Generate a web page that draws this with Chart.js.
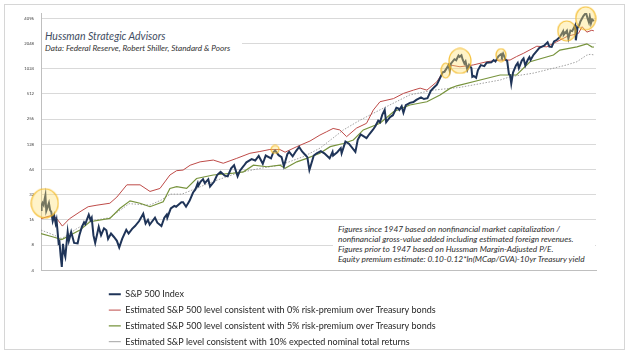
<!DOCTYPE html>
<html>
<head>
<meta charset="utf-8">
<script src="https://cdn.jsdelivr.net/npm/chart.js@4.4.0/dist/chart.umd.min.js"></script>
<style>
  body { margin: 0; background: #fff; }
  #wrap { position: relative; width: 630px; height: 353px; }
  #frame { position: absolute; left: 4px; top: 4px; width: 621px; height: 346px; border: 1px solid #d6d6d6; box-sizing: border-box; }
  canvas { position: absolute; left: 0; top: 0; }
  .box { position: absolute; background: #fff; font-family: Lato, sans-serif; font-style: italic; white-space: nowrap; }
  #title { left: 42px; top: 28px; width: 200px; height: 27px; }
  #title .t1 { position: absolute; left: 3px; top: 2px; font-size: 10.5px; color: #3f4d62; }
  #title .t2 { position: absolute; left: 3px; top: 15px; font-size: 8.2px; color: #333; }
  #note { left: 333px; top: 222px; width: 262px; height: 46px; font-size: 8.3px; line-height: 10px; color: #2e2e2e; padding: 2px 0 0 5px; box-sizing: border-box; }
</style>
</head>
<body>
<div id="wrap">
  <div id="frame"></div>
  <canvas id="chart" width="630" height="353"></canvas>
  <div id="title" class="box"><span class="t1">Hussman Strategic Advisors</span><span class="t2">Data: Federal Reserve, Robert Shiller, Standard &amp; Poors</span></div>
  <div id="note" class="box">Figures since 1947 based on nonfinancial market capitalization /<br>nonfinancial gross-value added including estimated foreign revenues.<br>Figures prior to 1947 based on Hussman Margin-Adjusted P/E.<br>Equity premium estimate: 0.10-0.12*ln(MCap/GVA)-10yr Treasury yield</div>
</div>
<script>
// tick labels (one every ~2.9 years on the original date axis)
var xTickLabels = ['1928','1931','1934','1937','1940','1943','1946','1949','1952','1955','1957','1960','1963','1966','1969','1972','1975','1978','1981','1984','1987','1990','1992','1995','1998','2001','2004','2007','2010','2013','2016','2019','2022'];
var yTicks = [4, 8, 16, 32, 64, 128, 256, 512, 1024, 2048, 4096];

// S&P 500 index
var spDates = [1928.95,1929.05,1929.2,1929.4,1929.55,1929.7,1929.85,1930.0,1930.3,1930.5,1930.7,1930.95,1931.2,1931.45,1931.6,1931.95,1932.1,1932.3,1932.5,1932.7,1932.9,1933.1,1933.5,1933.7,1934.1,1934.6,1935.2,1935.5,1935.9,1936.3,1936.5,1937.1,1937.4,1937.6,1937.9,1938.2,1938.8,1939.2,1939.7,1940.1,1940.4,1940.9,1941.4,1941.9,1942.3,1942.8,1943.5,1943.9,1944.5,1945.0,1945.7,1946.4,1946.8,1947.2,1947.5,1948.4,1948.8,1949.5,1950.0,1950.4,1950.5,1951.1,1951.7,1952.0,1952.9,1953.2,1953.7,1954.3,1954.9,1955.3,1955.7,1955.8,1956.2,1956.6,1956.9,1957.5,1957.8,1958.5,1959.0,1959.6,1960.3,1960.8,1961.4,1961.9,1962.5,1962.9,1963.5,1964.0,1964.9,1965.5,1966.1,1966.8,1967.3,1968.2,1968.6,1968.9,1969.5,1970.0,1970.4,1971.0,1971.3,1971.9,1972.5,1973.0,1973.5,1973.9,1974.4,1974.75,1975.0,1975.5,1976.0,1976.7,1977.3,1978.2,1978.7,1978.8,1979.5,1980.1,1980.25,1980.9,1981.5,1982.6,1983.0,1983.5,1984.5,1985.0,1985.6,1986.0,1986.5,1986.8,1987.2,1987.6,1987.85,1988.5,1989.0,1989.6,1989.9,1990.1,1990.5,1990.8,1991.2,1991.9,1992.5,1993.0,1993.8,1994.3,1994.9,1995.5,1996.0,1996.5,1997.0,1997.5,1997.8,1998.5,1998.7,1998.9,1999.5,1999.8,2000.2,2000.4,2000.7,2000.9,2001.2,2001.4,2001.7,2002.0,2002.4,2002.55,2002.8,2003.2,2003.5,2004.0,2004.6,2005.0,2005.8,2006.2,2006.5,2007.0,2007.45,2007.6,2007.8,2008.2,2008.5,2008.8,2009.0,2009.2,2009.5,2010.0,2010.3,2010.5,2011.0,2011.3,2011.6,2012.0,2012.3,2012.5,2013.0,2013.5,2014.0,2014.8,2015.4,2015.7,2016.1,2016.5,2017.0,2017.5,2018.05,2018.15,2018.7,2018.95,2019.3,2019.6,2020.1,2020.22,2020.5,2020.8,2021.0,2021.5,2021.95,2022.2,2022.45,2022.6,2022.8,2023.0,2023.3];
var spValues = [21,24,25.5,24,28,31.5,20.5,22,25.5,21,20,15.5,18,14.5,16,8.5,8.8,6,4.4,8.3,6.5,5.8,11.5,9,11.5,8.5,8.4,10.5,13,15,14.3,18.5,16,17,10.5,8.5,13.2,10.5,12.7,12,9.5,11,10,9,7.5,9.5,12.2,11,12.5,13.5,15.5,19,14.5,16,14,17,14.8,13.5,17,18.5,17,22,23.5,23,26,26,23,27,34,37,44,41,46,49,44,49,40,46,55,60,54,53,66,72,53,62,70,78,85,82,93,75,94,87,103,108,95,90,70,98,104,92,107,119,105,98,90,63,72,94,100,106,100,87,104,94,103,115,100,138,130,104,145,168,152,170,191,210,245,235,290,330,235,270,285,350,345,330,365,305,375,400,410,435,465,445,455,560,610,660,780,925,940,1130,970,1180,1330,1290,1470,1420,1480,1320,1180,1250,1000,1140,1040,820,840,800,980,1130,1100,1210,1220,1300,1250,1440,1530,1440,1550,1320,1270,880,860,680,920,1120,1200,1040,1280,1360,1120,1300,1410,1300,1500,1650,1820,1930,2120,1880,1860,2170,2270,2450,2870,2600,2920,2350,2920,2880,3380,2240,3150,3400,3750,4350,4770,4150,3670,4280,3580,3970,3800];

// 0% risk premium over Treasury bonds
var redDates = [1928.95,1930.0,1931.05,1931.8,1932.6,1933.8,1935.6,1937.0,1938.5,1940.7,1941.9,1943.6,1945.85,1947.55,1949.25,1950.95,1952.1,1953.2,1954.4,1956.1,1958.35,1960.05,1962.35,1964.6,1966.3,1968.0,1969.7,1970.6,1972.6,1974.85,1976.55,1977.7,1978.8,1979.95,1981.1,1982.8,1984.5,1985.65,1986.8,1989.1,1990.8,1992.5,1993.65,1994.8,1996.5,1997.6,1998.75,2000.45,2002.7,2005.0,2007.3,2009.0,2010.1,2011.25,2013.55,2015.25,2016.95,2018.8,2020.65,2021.3,2022.1,2022.95,2023.3];
var redValues = [16.5,17.5,18.2,16,13.5,16.5,20,23,24,25.3,30,42,42,35,38,55,62,63,72,79,83,76,87,100,105,111,111,103,120,140,165,181,198,190,158,200,228,328,413,450,519,568,600,568,714,942,1135,1080,1135,1240,1300,1300,1430,1560,1900,1870,2150,2500,2700,3250,2800,2950,2900];

// 5% risk premium over Treasury bonds
var greenDates = [1928.95,1931.05,1932.5,1935.6,1937.3,1940.7,1942.45,1944.15,1945.85,1947.55,1949.8,1950.95,1952.1,1953.8,1955.5,1958.35,1961.75,1963.5,1965.2,1967.5,1969.75,1970.6,1972.6,1974.3,1976.55,1978.3,1980.55,1982.25,1983.95,1986.8,1989.1,1991.9,1994.8,1997.05,1998.75,1999.9,2003.9,2007.3,2010.1,2012.4,2016.4,2017.5,2020.4,2022.1,2022.95,2023.3];
var greenValues = [11,10,9.3,12.1,15.2,16.7,22,27,25.3,23,26.4,38,40,38,50,55,58,60,72,69,72,66,79,87,100,120,131,144,190,228,313,377,413,498,596,640,750,861,861,1240,1490,1710,1870,2030,1870,1850];

// 10% expected nominal total returns
var grayDates = [1928.95,1930.5,1932.5,1935.0,1937.3,1940.7,1944.0,1947.5,1949.5,1951.0,1953.0,1958.35,1962.35,1966.3,1969.7,1973.7,1976.55,1980.55,1983.4,1986.8,1991.9,1995.9,2000.45,2007.3,2009.0,2012.95,2018.65,2020.4,2022.1,2022.65,2023.3];
var grayValues = [12.1,11,9.6,12.5,15.5,17,25,24,27.7,32.5,32.5,46,57.7,66,72,91,115,190,249,330,498,568,613,750,820,906,1135,1240,1490,1520,1500];

// highlighted overvaluation peaks
var peakDates = [1929.6, 1968.9, 1998.0, 2000.45, 2007.45, 2018.65, 2021.9];
var peakValues = [25.3, 111, 970, 1270, 1490, 2900, 4096];
var ringSizes = [[27,29],[8,8],[9,15],[22,25],[10,13],[18,20],[20,23]];

function pts(xs, ys) {
    return xs.map(function (x, i) { return {x: x, y: ys[i]}; });
}

function ring(w, h) {
    var c = document.createElement('canvas');
    c.width = w + 2; c.height = h + 2;
    var g = c.getContext('2d');
    g.beginPath();
    g.ellipse(c.width / 2, c.height / 2, w / 2, h / 2, 0, 0, Math.PI * 2);
    g.fillStyle = 'rgba(255, 224, 110, 0.38)';
    g.fill();
    g.lineWidth = 1.2;
    g.strokeStyle = 'rgba(244, 186, 40, 0.9)';
    g.stroke();
    return c;
}
var rings = ringSizes.map(function (s) { return ring(s[0], s[1]); });

var xFirst = 1928.78, xStep = 2.9117;

// legend sits below the plot, left-aligned like the original
var legendSpot = {
    id: 'legendSpot',
    afterLayout: function (chart) {
        var lg = chart.legend;
        var w = lg.width, h = lg.height;
        lg.left = 102; lg.top = 283;
        lg.right = lg.left + w; lg.bottom = lg.top + h;
    }
};

Chart.defaults.font.family = 'Lato';
Chart.defaults.color = '#404040';

new Chart(document.getElementById('chart'), {
    type: 'line',
    data: {
        datasets: [{
            label: 'S&P 500 Index',
            data: pts(spDates, spValues),
            borderColor: '#1f3458',
            borderWidth: 2,
            pointRadius: 0,
            pointStyle: 'line'
        }, {
            label: 'Estimated S&P 500 level consistent with 0% risk-premium over Treasury bonds',
            data: pts(redDates, redValues),
            borderColor: '#be4b48',
            borderWidth: 1,
            pointRadius: 0,
            pointStyle: 'line'
        }, {
            label: 'Estimated S&P 500 level consistent with 5% risk-premium over Treasury bonds',
            data: pts(greenDates, greenValues),
            borderColor: '#77933c',
            borderWidth: 1.2,
            pointRadius: 0,
            pointStyle: 'line'
        }, {
            label: 'Estimated S&P level consistent with 10% expected nominal total returns',
            data: pts(grayDates, grayValues),
            borderColor: '#8a8a8a',
            borderWidth: 0.8,
            borderDash: [1.5, 1.5],
            pointRadius: 0,
            pointStyle: 'line'
        }, {
            type: 'scatter',
            label: 'peaks',
            data: pts(peakDates, peakValues),
            pointStyle: function (ctx) { return rings[ctx.dataIndex]; },
            pointRadius: 5,
            clip: false,
            order: -1
        }]
    },
    options: {
        responsive: false,
        animation: false,
        devicePixelRatio: 1,
        layout: { padding: { left: 4, right: 34, top: 13, bottom: 72.7 } },
        elements: { line: { tension: 0 } },
        plugins: {
            tooltip: { enabled: false },
            legend: {
                position: 'chartArea',
                align: 'start',
                labels: {
                    filter: function (item) { return item.datasetIndex < 4; },
                    usePointStyle: true,
                    pointStyleWidth: 12,
                    font: { size: 9 },
                    color: '#262626',
                    padding: 6.8
                }
            }
        },
        scales: {
            x: {
                type: 'linear',
                min: 1928.95,
                max: 2023.66,
                grid: { display: false },
                border: { display: true, color: '#bfbfbf' },
                afterFit: function (s) { s.height = 10; },
                afterBuildTicks: function (s) {
                    s.ticks = xTickLabels.map(function (t, i) { return {value: xFirst + i * xStep}; });
                },
                ticks: {
                    autoSkip: false,
                    maxRotation: 0,
                    padding: 4,
                    font: { size: 4.2 },
                    color: '#404040',
                    callback: function (v, i) { return xTickLabels[i]; }
                }
            },
            y: {
                type: 'logarithmic',
                min: 4,
                max: 4740,
                grid: { color: '#d9d9d9', lineWidth: 1, drawTicks: false },
                border: { display: true, color: '#bfbfbf' },
                afterFit: function (s) { s.width = 37; },
                afterBuildTicks: function (s) {
                    s.ticks = yTicks.map(function (v) { return {value: v}; });
                },
                ticks: {
                    padding: 7,
                    font: { size: 4.2 },
                    color: '#404040',
                    callback: function (v) { return String(v); }
                }
            }
        }
    },
    plugins: [legendSpot]
});
</script>
</body>
</html>
